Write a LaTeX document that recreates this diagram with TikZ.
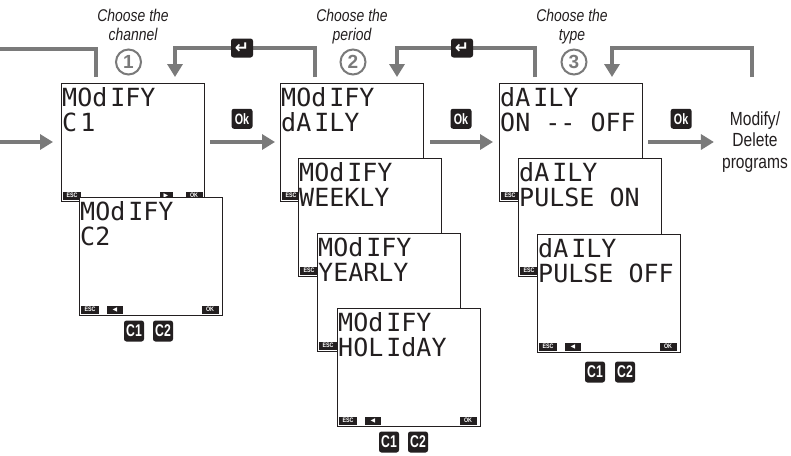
\documentclass[tikz,border=0pt]{standalone}
\usepackage{fontspec}
\setmainfont{Liberation Sans}
\newfontfamily\cond[FakeStretch=0.82]{Liberation Sans}
\newfontfamily\condb[FakeStretch=0.72]{Liberation Sans}
\newfontfamily\lcdfont{DejaVu Sans Mono}
\newfontfamily\symfont{DejaVu Sans}
\usetikzlibrary{arrows.meta,calc}
\definecolor{flowgray}{RGB}{122,122,122}
\definecolor{ink}{RGB}{35,31,32}
\newcommand\lcdgap{\hspace{3pt}}
\newcommand\lcdscreen[5]{%
  \node[screen] (#1) at (#2,#3) {};
  \node[lcd] (#1-l1) at ([xshift=1pt,yshift=-23pt]#1.north west) {#4};
  \node[lcd] (#1-l2) at ([xshift=1pt,yshift=-48pt]#1.north west) {#5};
  \node[key, minimum width=18pt] (#1-esc) at ([xshift=11pt,yshift=5.5pt]#1.south west) {ESC};
}
\newcommand\backkey[1]{\node[key, minimum width=16pt] (#1-back) at ([xshift=36pt,yshift=5.5pt]#1.south west) {\symfont\fontsize{6}{6}\selectfont ◀};}
\newcommand\okkey[2]{\node[key, minimum width=17pt] (#1-ok) at ([xshift=-#2pt,yshift=5.5pt]#1.south east) {OK};}
\begin{document}
\begin{tikzpicture}[x=1pt,y=-1pt,
  screen/.style={draw=ink, line width=1pt, fill=white, minimum width=143pt, minimum height=118pt, anchor=north west, inner sep=0pt, outer sep=0pt},
  lcd/.style={font=\lcdfont\fontsize{25}{25}\selectfont, anchor=base west, inner sep=0pt, text=ink},
  key/.style={fill=ink, text=white, inner sep=0pt, minimum height=8pt, font=\cond\bfseries\fontsize{6.5}{6.5}\selectfont},
  flow/.style={draw=flowgray, line width=4.5pt},
  flowarrow/.style={flow, -{Triangle[length=13pt,width=15pt]}},
  badge/.style={fill=ink, text=white, rounded corners=2.5pt, minimum width=21pt, minimum height=20pt, inner sep=0pt, font=\condb\bfseries\fontsize{15}{15}\selectfont},
  cbadge/.style={badge, minimum width=20pt, minimum height=21pt, font=\condb\bfseries\fontsize{17}{17}\selectfont},
  numcirc/.style={circle, draw=flowgray, line width=2pt, minimum size=25pt, inner sep=0pt, text=flowgray, font=\bfseries\fontsize{19}{19}\selectfont},
  caption/.style={font=\cond\itshape\fontsize{17}{18.5}\selectfont, align=center, text=ink, inner sep=0pt, anchor=north}]
\useasboundingbox (0,0) rectangle (791,455);
\fill[white] (0,0) rectangle (791,455);

% captions and step numbers
\node[caption] (cap1) at (133,9) {Choose the\\channel};
\node[caption] (cap2) at (352,9) {Choose the\\period};
\node[caption] (cap3) at (572,9) {Choose the\\type};
\node[numcirc] (n1) at (128.5,62) {1};
\node[numcirc] (n2) at (353,62) {2};
\node[numcirc] (n3) at (574,62) {3};

% column 1
\lcdscreen{s1}{61}{83}{MOd\lcdgap IFY}{C\lcdgap 1}
\node[key, minimum width=13pt] (s1-fwd) at ([xshift=-38pt,yshift=5.5pt]s1.south east) {\symfont\fontsize{6}{6}\selectfont ▶};
\okkey{s1}{10}
\lcdscreen{c2}{79}{197}{MOd\lcdgap IFY}{C2}
\backkey{c2}
\okkey{c2}{12}
\node[cbadge] (b1a) at (134,331) {C1};
\node[cbadge] (b1b) at (163,331) {C2};

% column 2
\lcdscreen{d1}{280}{83}{MOd\lcdgap IFY}{dA\lcdgap ILY}
\lcdscreen{d2}{298}{158}{MOd\lcdgap IFY}{WEEKLY}
\lcdscreen{d3}{317}{233}{MOd\lcdgap IFY}{YEARLY}
\lcdscreen{d4}{337}{308}{MOd\lcdgap IFY}{HOL\lcdgap IdAY}
\backkey{d4}
\okkey{d4}{12}
\node[cbadge] (b2a) at (389,442) {C1};
\node[cbadge] (b2b) at (418,442) {C2};

% column 3
\lcdscreen{o1}{499}{83}{dA\lcdgap ILY}{ON -- OFF}
\lcdscreen{o2}{518}{158}{dA\lcdgap ILY}{PULSE ON}
\lcdscreen{o3}{537}{234}{dA\lcdgap ILY}{PULSE OFF}
\backkey{o3}
\okkey{o3}{12}
\node[cbadge] (b3a) at (595,372) {C1};
\node[cbadge] (b3b) at (625,372) {C2};

% end text
\node[font=\cond\fontsize{19}{21.5}\selectfont, align=center, text=ink, inner sep=0pt] (mod) at (755,142) {Modify/\\Delete\\programs};

% connectors
\coordinate (inL) at (0,142);
\coordinate (inT) at (0,49);
\coordinate (mtop) at (752,77);
\draw[flowarrow, shorten >=8pt] (inL) -- (inL -| s1.west);
\draw[flow, shorten >=6pt] (inT) -| ([xshift=35pt]s1.north west);
\draw[flowarrow, shorten <=6pt, shorten >=5pt] (s1.east) -- node[badge, above=11pt] (ok1) {Ok} (d1.west);
\draw[flowarrow, shorten <=7pt, shorten >=6pt] (d1.east) -- node[badge, above=11pt] (ok2) {Ok} (o1.west);
\draw[flowarrow, shorten <=6pt, shorten >=8pt] (o1.east) -- node[badge, above=11pt, pos=0.49] (ok3) {Ok} (o1.east -| mod.west);
\draw[flowarrow, shorten <=6pt, shorten >=6pt] ([xshift=35pt]d1.north west) -- ++(0,-35) -| node[badge, pos=0.25, xshift=-3pt, minimum width=22pt, minimum height=19pt] (rk1) {\symfont\bfseries\fontsize{17}{17}\selectfont ↵} ([xshift=114pt]s1.north west);
\draw[flowarrow, shorten <=6pt, shorten >=6pt] ([xshift=36pt]o1.north west) -- ++(0,-35) -| node[badge, pos=0.25, xshift=-4pt, minimum width=22pt, minimum height=19pt] (rk2) {\symfont\bfseries\fontsize{17}{17}\selectfont ↵} ([xshift=117pt]d1.north west);
\draw[flowarrow, shorten >=6pt] (mtop) -- ++(0,-29) -| ([xshift=113pt]o1.north west);
\end{tikzpicture}
\end{document}
